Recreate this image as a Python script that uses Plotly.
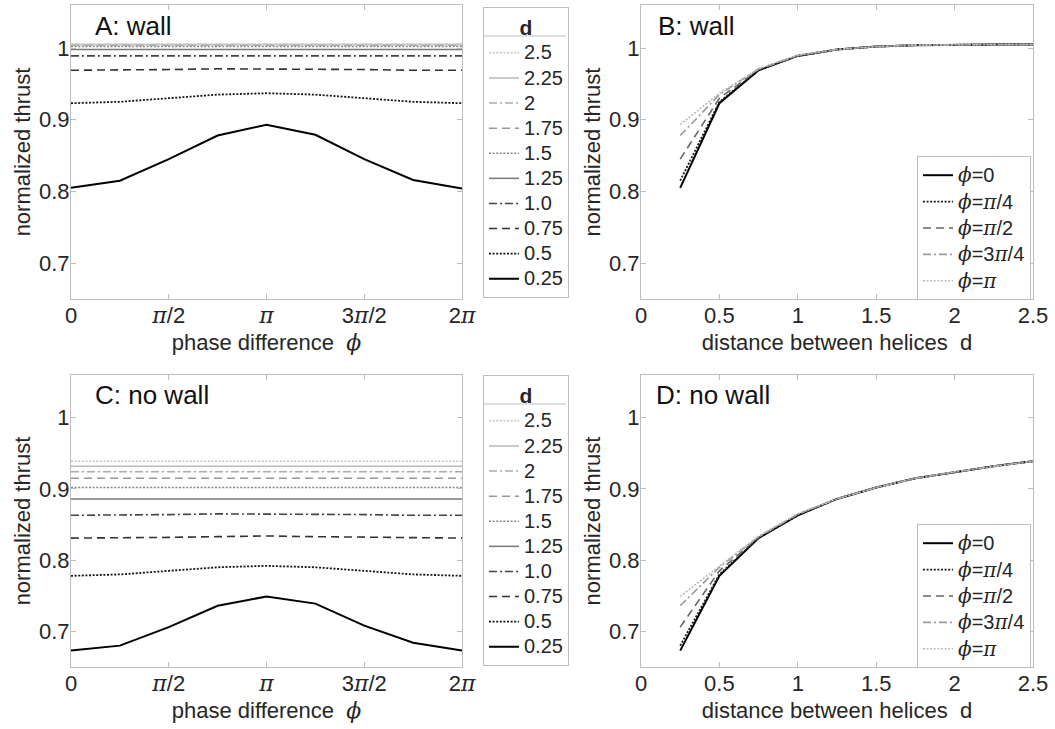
import numpy as np
import plotly.graph_objects as go

W, H = 1055, 729

# ---------------- data ----------------
d_values = [0.25, 0.5, 0.75, 1.0, 1.25, 1.5, 1.75, 2.0, 2.25, 2.5]
d_labels = ["0.25", "0.5", "0.75", "1.0", "1.25", "1.5", "1.75", "2", "2.25", "2.5"]
phase_values = [0, np.pi/4, np.pi/2, 3*np.pi/4, np.pi, 5*np.pi/4, 3*np.pi/2, 7*np.pi/4, 2*np.pi]
phi_labels = ["0", "π/4", "π/2", "3π/4", "π"]

# rows: d ; columns: phase
thrust_wall_d025 = [0.805, 0.815, 0.845, 0.878, 0.893, 0.879, 0.845, 0.816, 0.804]
thrust_wall_d050 = [0.923, 0.925, 0.930, 0.935, 0.937, 0.935, 0.930, 0.925, 0.923]
thrust_wall_d075 = [0.969, 0.969, 0.970, 0.971, 0.971, 0.971, 0.970, 0.969, 0.969]
thrust_wall_d100 = [0.989, 0.989, 0.989, 0.990, 0.990, 0.990, 0.989, 0.989, 0.989]
thrust_wall_d125 = [0.998, 0.998, 0.998, 0.998, 0.998, 0.998, 0.998, 0.998, 0.998]
thrust_wall_d150 = [1.002, 1.002, 1.002, 1.002, 1.002, 1.002, 1.002, 1.002, 1.002]
thrust_wall_d175 = [1.004, 1.004, 1.004, 1.004, 1.004, 1.004, 1.004, 1.004, 1.004]
thrust_wall_d200 = [1.005, 1.005, 1.005, 1.005, 1.005, 1.005, 1.005, 1.005, 1.005]
thrust_wall_d225 = [1.005, 1.005, 1.005, 1.005, 1.005, 1.005, 1.005, 1.005, 1.005]
thrust_wall_d250 = [1.005, 1.005, 1.005, 1.005, 1.005, 1.005, 1.005, 1.005, 1.005]

thrust_free_d025 = [0.673, 0.680, 0.706, 0.736, 0.749, 0.739, 0.708, 0.684, 0.673]
thrust_free_d050 = [0.778, 0.780, 0.785, 0.790, 0.792, 0.790, 0.785, 0.780, 0.778]
thrust_free_d075 = [0.831, 0.831, 0.832, 0.833, 0.834, 0.833, 0.832, 0.831, 0.831]
thrust_free_d100 = [0.863, 0.863, 0.864, 0.865, 0.865, 0.865, 0.864, 0.863, 0.863]
thrust_free_d125 = [0.886, 0.886, 0.886, 0.886, 0.886, 0.886, 0.886, 0.886, 0.886]
thrust_free_d150 = [0.902, 0.902, 0.902, 0.902, 0.902, 0.902, 0.902, 0.902, 0.902]
thrust_free_d175 = [0.915, 0.915, 0.915, 0.915, 0.915, 0.915, 0.915, 0.915, 0.915]
thrust_free_d200 = [0.924, 0.924, 0.924, 0.924, 0.924, 0.924, 0.924, 0.924, 0.924]
thrust_free_d225 = [0.932, 0.932, 0.932, 0.932, 0.932, 0.932, 0.932, 0.932, 0.932]
thrust_free_d250 = [0.939, 0.939, 0.939, 0.939, 0.939, 0.939, 0.939, 0.939, 0.939]

wall = [thrust_wall_d025, thrust_wall_d050, thrust_wall_d075, thrust_wall_d100, thrust_wall_d125,
        thrust_wall_d150, thrust_wall_d175, thrust_wall_d200, thrust_wall_d225, thrust_wall_d250]
free = [thrust_free_d025, thrust_free_d050, thrust_free_d075, thrust_free_d100, thrust_free_d125,
        thrust_free_d150, thrust_free_d175, thrust_free_d200, thrust_free_d225, thrust_free_d250]

x_phase_ticks = [0, np.pi/2, np.pi, 3*np.pi/2, 2*np.pi]
x_d_ticks = [0, 0.5, 1, 1.5, 2, 2.5]
y_ticks = [0.7, 0.8, 0.9, 1.0]

# ---------------- styles ----------------
DOT = "2px,1.6px"
DASH = "8px,5px"
DASHDOT = "8px,3px,2px,3px"
d_styles = [
    ("#000000", "solid", 2.0),
    ("#141414", DOT, 1.8),
    ("#333333", DASH, 1.6),
    ("#444444", DASHDOT, 1.6),
    ("#777777", "solid", 1.5),
    ("#888888", DOT, 1.5),
    ("#999999", DASH, 1.5),
    ("#aaaaaa", DASHDOT, 1.5),
    ("#bbbbbb", "solid", 1.5),
    ("#c4c4c4", DOT, 1.5),
]
phi_styles = [
    ("#000000", "solid", 2.0),
    ("#1a1a1a", DOT, 1.8),
    ("#666666", DASH, 1.6),
    ("#999999", DASHDOT, 1.6),
    ("#bbbbbb", DOT, 1.6),
]

SERIF = "'DejaVu Serif'"
def sym(s):
    return f"<span style=\"font-family:{SERIF}\"><i>{s}</i></span>"

def big(s, px):
    return f"<span style=\"font-size:{px}px\">{s}</span>"

def phi_text(lbl):
    t = lbl.replace("π", sym("π"))
    return big(sym("ϕ") + "=" + t, 20)

FONT = "Liberation Sans, Arial, sans-serif"
TXT = "#262626"
FRAME = "#bdbdbd"

fig = go.Figure()

# domains in paper fractions
xA = [71 / W, 462 / W]
xB = [641 / W, 1033 / W]
yTop = [1 - 299 / H, 1 - 5 / H]
yBot = [1 - 667 / H, 1 - 375 / H]

panels = [
    ("x", "y", wall, "legend"),
    ("x2", "y2", wall, "legend2"),
    ("x3", "y3", free, "legend3"),
    ("x4", "y4", free, "legend4"),
]

# A and C: thrust vs phase, one line per d
for (xa, ya, data, lg) in [panels[0], panels[2]]:
    for i, dv in enumerate(d_values):
        c, dash, w = d_styles[i]
        fig.add_trace(go.Scatter(
            x=phase_values, y=data[i], mode="lines", xaxis=xa, yaxis=ya,
            name=big(d_labels[i], 20), legend=lg,
            line=dict(color=c, dash=dash, width=w)))

# B and D: thrust vs d, one line per phi (0..pi)
for (xa, ya, data, lg) in [panels[1], panels[3]]:
    for k, lbl in enumerate(phi_labels):
        c, dash, w = phi_styles[k]
        fig.add_trace(go.Scatter(
            x=d_values, y=[row[k] for row in data], mode="lines", xaxis=xa, yaxis=ya,
            name=phi_text(lbl), legend=lg,
            line=dict(color=c, dash=dash, width=w)))

tickfont = dict(family=FONT, size=22, color=TXT)
titlefont = dict(family=FONT, size=22, color=TXT)

def axis_common():
    return dict(showline=True, linecolor=FRAME, linewidth=1, mirror="ticks",
                ticks="inside", ticklen=5, tickcolor=FRAME, tickwidth=1,
                showgrid=False, zeroline=False, tickfont=tickfont, automargin=False)

phase_ticktext = ["0", sym("π") + "/2", sym("π"), "3" + sym("π") + "/2", "2" + sym("π")]
phase_title = "phase difference  " + sym("ϕ")
d_title = "distance between helices  d"

layout_axes = {}
for name, dom, ttl, anc in [("xaxis", xA, phase_title, "y"), ("xaxis3", xA, phase_title, "y3")]:
    a = axis_common()
    a.update(domain=dom, range=[0, 2*np.pi], tickvals=x_phase_ticks, ticktext=phase_ticktext,
             anchor=anc, ticklabelstandoff=-3,
             title=dict(text=ttl, font=titlefont, standoff=7))
    layout_axes[name] = a
for name, dom, ttl, anc in [("xaxis2", xB, d_title, "y2"), ("xaxis4", xB, d_title, "y4")]:
    a = axis_common()
    a.update(domain=dom, range=[0, 2.5], tickvals=x_d_ticks,
             ticktext=["0", "0.5", "1", "1.5", "2", "2.5"],
             anchor=anc, ticklabelstandoff=-3,
             title=dict(text=ttl, font=titlefont, standoff=7))
    layout_axes[name] = a
for name, dom, anc in [("yaxis", yTop, "x"), ("yaxis2", yTop, "x2"),
                       ("yaxis3", yBot, "x3"), ("yaxis4", yBot, "x4")]:
    a = axis_common()
    a.update(domain=dom, range=[0.65, 1.06], tickvals=y_ticks,
             ticktext=["0.7", "0.8", "0.9", "1"], anchor=anc, ticklabelstandoff=-4,
             title=dict(text="normalized thrust", font=titlefont, standoff=2))
    layout_axes[name] = a

def d_legend(top_px):
    return dict(x=483 / W, y=1 - top_px / H, xanchor="left", yanchor="top",
                traceorder="reversed", bgcolor="rgba(255,255,255,0)", bordercolor=FRAME, borderwidth=1,
                font=dict(family=FONT, size=17, color=TXT), itemwidth=30,
                title=dict(text="<b>d</b>", side="top center",
                           font=dict(family=FONT, size=21, color=TXT)),
                tracegroupgap=0)

def phi_legend(top_px):
    return dict(x=917 / W, y=1 - top_px / H, xanchor="left", yanchor="top",
                traceorder="normal", bgcolor="white", bordercolor=FRAME, borderwidth=1,
                font=dict(family=FONT, size=18, color=TXT), itemwidth=30,
                tracegroupgap=0)

annotations = []
for txt, xp, yp in [("A: wall", 93, 26), ("B: wall", 656, 26),
                    ("C: no wall", 93, 395), ("D: no wall", 654, 395)]:
    annotations.append(dict(text=txt, x=xp / W, y=1 - yp / H, xref="paper", yref="paper",
                            xanchor="left", yanchor="middle", showarrow=False,
                            font=dict(family=FONT, size=26, color="#111111")))

shapes = []
for sep in [36, 404]:
    shapes.append(dict(type="line", xref="paper", yref="paper",
                       x0=483 / W, x1=566 / W, y0=1 - sep / H, y1=1 - sep / H,
                       line=dict(color=FRAME, width=1)))

fig.update_layout(
    width=W, height=H, margin=dict(l=0, r=0, t=0, b=0, autoexpand=False),
    paper_bgcolor="white", plot_bgcolor="white",
    font=dict(family=FONT, color=TXT),
    showlegend=True,
    legend=d_legend(7), legend3=d_legend(375),
    legend2=phi_legend(156), legend4=phi_legend(524),
    annotations=annotations, shapes=shapes,
    **layout_axes,
)

fig.write_html("out.html")
